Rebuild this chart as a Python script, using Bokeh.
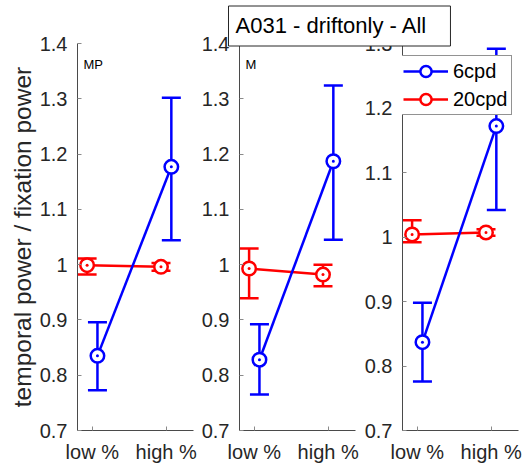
from bokeh.plotting import figure
from bokeh.layouts import row
from bokeh.models import (Range1d, FixedTicker, Whisker, TeeHead, ColumnDataSource,
                          Legend, LegendItem, Label, Title)
from bokeh.embed import file_html
from bokeh.resources import INLINE

# categories on the x axis
categories = [1, 2]
category_labels = ["low %", "high %"]

# y ticks for the two panel kinds
y_ticks_a = [0.7, 0.8, 0.9, 1.0, 1.1, 1.2, 1.3, 1.4]
y_labels_a = ["0.7", "0.8", "0.9", "1", "1.1", "1.2", "1.3", "1.4"]
y_ticks_b = [0.7, 0.8, 0.9, 1.0, 1.1, 1.2, 1.3]
y_labels_b = ["0.7", "0.8", "0.9", "1", "1.1", "1.2", "1.3"]

series_names = ["6cpd", "20cpd"]
panel_tags = ["MP", "M", ""]
title_text = "A031 - driftonly - All"
y_title = "temporal power / fixation power"

# MP cells: mean ratio with lower / upper error limits
mp_6cpd = [0.835, 1.177]
mp_6cpd_lo = [0.773, 1.044]
mp_6cpd_hi = [0.896, 1.302]
mp_20cpd = [0.999, 0.996]
mp_20cpd_lo = [0.982, 0.989]
mp_20cpd_hi = [1.011, 1.003]

# M cells
m_6cpd = [0.828, 1.187]
m_6cpd_lo = [0.765, 1.045]
m_6cpd_hi = [0.892, 1.324]
m_20cpd = [0.993, 0.982]
m_20cpd_lo = [0.939, 0.961]
m_20cpd_hi = [1.029, 1.000]

# all cells
all_6cpd = [0.837, 1.172]
all_6cpd_lo = [0.776, 1.042]
all_6cpd_hi = [0.898, 1.292]
all_20cpd = [1.004, 1.007]
all_20cpd_lo = [0.992, 1.002]
all_20cpd_hi = [1.026, 1.012]

FONT = "Liberation Sans"
INK = "#262626"
BLUE = "#0000ff"
RED = "#ff0000"
W, H = 525, 465
FRAME_W = 116
TOP, BOTTOM = 43, 35
OFFSETS = {"6cpd": 0.07, "20cpd": -0.07}
COLORS = {"6cpd": BLUE, "20cpd": RED}


def make_panel(left, y_end, ticks, tick_labels, tag, cells, with_ylabel=False, base=False):
    p = figure(width=W, height=H, output_backend="svg", toolbar_location=None,
               x_range=Range1d(0.8, 2.37), y_range=Range1d(0.7, y_end),
               min_border_left=left, min_border_right=W - left - FRAME_W,
               min_border_top=TOP, min_border_bottom=BOTTOM, title=None)
    p.outline_line_color = None
    p.xgrid.visible = False
    p.ygrid.visible = False
    if base:
        p.background_fill_color = "white"
        p.border_fill_color = "white"
    else:
        # later panels are stacked on top of the first one
        p.background_fill_alpha = 0
        p.border_fill_alpha = 0
        p.margin = (0, 0, 0, -W)

    for ax in (p.xaxis[0], p.yaxis[0]):
        ax.axis_line_color = "#4a4a4a"
        ax.axis_line_width = 1
        ax.major_tick_in = 4
        ax.major_tick_out = 0
        ax.major_tick_line_color = "#8a8a8a"
        ax.minor_tick_line_color = None
        ax.major_label_text_font = FONT
        ax.major_label_text_font_size = "20px"
        ax.major_label_text_color = INK
        ax.major_label_standoff = 10

    p.xaxis.ticker = FixedTicker(ticks=categories)
    p.xaxis.major_label_overrides = dict(zip(categories, category_labels))
    p.yaxis.ticker = FixedTicker(ticks=ticks)
    p.yaxis.major_label_overrides = dict(zip(ticks, tick_labels))

    if with_ylabel:
        p.yaxis.axis_label = y_title
        p.yaxis.axis_label_text_font = FONT
        p.yaxis.axis_label_text_font_size = "24.5px"
        p.yaxis.axis_label_text_font_style = "normal"
        p.yaxis.axis_label_text_color = INK
        p.yaxis.axis_label_standoff = 1

    renderers = {}
    # red series first so the blue line sits on top where they cross
    for name in ["20cpd", "6cpd"]:
        mean, lo, hi = cells[name]
        color = COLORS[name]
        src = ColumnDataSource(dict(x=[c + OFFSETS[name] for c in categories],
                                    y=mean, lo=lo, hi=hi))
        p.add_layout(Whisker(source=src, base="x", lower="lo", upper="hi",
                             line_color=color, line_width=2.5,
                             upper_head=TeeHead(size=19, line_color=color, line_width=2.5),
                             lower_head=TeeHead(size=19, line_color=color, line_width=2.5)))
        ln = p.line("x", "y", source=src, line_color=color, line_width=2.5)
        mk = p.scatter("x", "y", source=src, marker="circle", size=13.5,
                       line_color=color, line_width=2.5, fill_color="white")
        p.scatter("x", "y", source=src, marker="circle", size=3,
                  line_color=None, fill_color=color)
        renderers[name] = [ln, mk]

    if tag:
        p.add_layout(Label(x=left + 6, y=64, x_units="canvas", y_units="canvas",
                           text=tag, text_font=FONT, text_font_size="13px",
                           text_color="black", text_baseline="alphabetic"))
    return p, renderers


p1, _ = make_panel(77, 1.4, y_ticks_a, y_labels_a, panel_tags[0],
                   {"6cpd": (mp_6cpd, mp_6cpd_lo, mp_6cpd_hi),
                    "20cpd": (mp_20cpd, mp_20cpd_lo, mp_20cpd_hi)},
                   with_ylabel=True, base=True)
p2, _ = make_panel(239, 1.4, y_ticks_a, y_labels_a, panel_tags[1],
                   {"6cpd": (m_6cpd, m_6cpd_lo, m_6cpd_hi),
                    "20cpd": (m_20cpd, m_20cpd_lo, m_20cpd_hi)})
p3, r3 = make_panel(402, 1.3, y_ticks_b, y_labels_b, panel_tags[2],
                    {"6cpd": (all_6cpd, all_6cpd_lo, all_6cpd_hi),
                     "20cpd": (all_20cpd, all_20cpd_lo, all_20cpd_hi)})

# legend of the last panel
legend = Legend(items=[LegendItem(label=n, renderers=r3[n]) for n in series_names],
                location=(-1, 315), orientation="vertical",
                glyph_width=45, glyph_height=28, label_height=21, label_width=57,
                label_standoff=5, spacing=-2, padding=1, margin=0,
                label_text_font=FONT, label_text_font_size="20px",
                label_text_color="black",
                border_line_color=INK, border_line_width=1,
                background_fill_color="white", background_fill_alpha=1)
p3.add_layout(legend)

# boxed title reaching left over the middle panel
p3.add_layout(Title(text=title_text, align="left", offset=-174, standoff=-5,
                    text_font=FONT, text_font_size="22px", text_font_style="normal",
                    text_color="black",
                    padding=dict(left=7, right=23, top=7, bottom=8),
                    background_fill_color="white", background_fill_alpha=1,
                    border_line_color=INK, border_line_width=1), "above")

layout = row(p1, p2, p3)
open("out.html", "w").write(file_html(layout, INLINE))
